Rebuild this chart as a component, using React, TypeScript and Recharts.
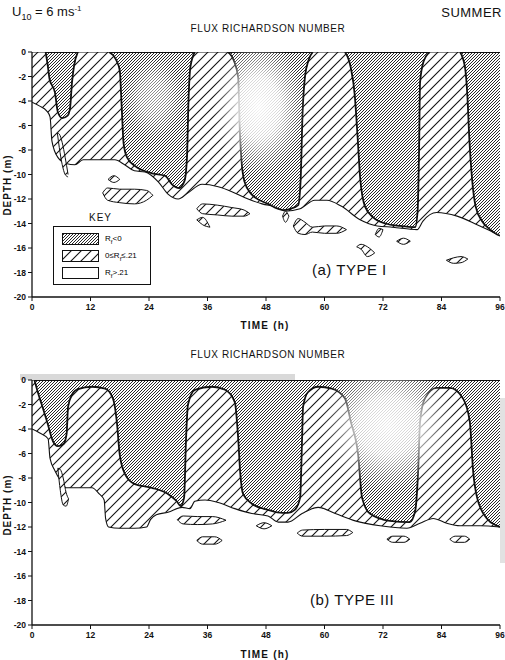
import React from 'react'
import { ComposedChart, Area, XAxis, YAxis, ReferenceArea } from 'recharts'

// time axis (h) and depth axis (m)
const timeTicks = [0, 12, 24, 36, 48, 60, 72, 84, 96]
const depthTicks = [0, -2, -4, -6, -8, -10, -12, -14, -16, -18, -20]

// [time, depth] of the lower edge of the hatched (Rf <= .21) layer
const mixedBaseA: [number, number][] = [
  [0, -4.1], [1.5, -4.4], [3, -4.8], [3.7, -5.3], [4.1, -7.3], [5.3, -8.6], [7, -9.1],
  [8.8, -9.2], [10.5, -8.8], [14, -8.8], [17, -8.8], [19, -9.2], [21, -9.7], [23.2, -9.8],
  [25.9, -10.6], [27.9, -11.6], [30, -12], [32, -11.5], [34.9, -10.8], [38.2, -11],
  [41, -11.4], [43.7, -11.9], [47.2, -12.4], [50.5, -12.7], [52, -13], [55, -12.8],
  [58, -12.1], [60.5, -12.1], [63.5, -12.6], [67.3, -13.7], [70.8, -14.2], [74, -14.3],
  [79, -14.5], [80.2, -13.8], [83, -13.1], [87.2, -13.4], [91.3, -14.1], [94, -14.6], [96, -15],
]

// [time, depth] of the bottom of each convective (Rf < 0) column
const convectiveA: [number, number][][] = [
  [[2.8, 0], [3.2, -1], [3.6, -2.2], [4.7, -3.3], [5.3, -4.9], [6.2, -5.4], [7.3, -5.2],
    [7.8, -4.6], [8.2, -2.5], [8.6, -1.2], [9.4, 0]],
  [[15.8, 0], [17.2, -0.6], [18, -1.5], [18.4, -4.5], [18.8, -7.5], [19.5, -8.6], [21.1, -9.3],
    [24.6, -9.9], [27.3, -10.1], [28.7, -10.8], [30.2, -11.1], [31.3, -10.5], [31.8, -8.5],
    [32.1, -4], [32.5, -1.2], [33.4, 0]],
  [[40.2, 0], [41.5, -0.8], [42.3, -2.1], [42.6, -6], [43, -9], [43.6, -10.6], [45, -11.6],
    [48.4, -12.4], [51.5, -12.9], [53, -12.8], [54.6, -12.5], [55.1, -10.5], [55.5, -5],
    [56, -2], [56.7, -0.7], [57.6, 0]],
  [[64.2, 0], [65.4, -1.3], [66.2, -3.5], [66.8, -7], [67.3, -10.2], [68.3, -12.6], [70, -13.5],
    [72.5, -14], [75.5, -14.2], [78.6, -14.3], [79.1, -13], [79.4, -8], [79.6, -2.5],
    [80.3, -0.8], [81.6, 0]],
  [[87.8, 0], [88.8, -1.2], [89.3, -3.5], [89.7, -7], [90.3, -10.5], [91, -12.6], [92.3, -13.8],
    [94, -14.5], [95.4, -14.9], [96, -15]],
]

// detached hatched patches: [time, lower depth, upper depth]
const patchesA: [number, number, number][][] = [
  [[5.2, -6.6, -6.6], [5.6, -7.8, -6.7], [6.2, -9.2, -7.4], [6.8, -10, -8.6], [7.4, -10.2, -10]],
  [[15.6, -10.4, -10.4], [16.8, -10.65, -10.1], [18, -10.4, -10.4]],
  [[14.5, -11.5, -11.5], [15.5, -12.1, -11.1], [18, -12.3, -11.2], [21, -12.4, -11.2],
    [23.5, -12.1, -11.3], [24.8, -11.7, -11.7]],
  [[33.8, -12.8, -12.8], [35, -13.2, -12.4], [38, -13.3, -12.5], [41, -13.4, -12.7],
    [43.5, -13.4, -12.9], [44.7, -13.2, -13.2]],
  [[33.8, -13.7, -13.7], [35, -14.1, -13.5], [36.5, -14.3, -14.3]],
  [[51.4, -13.4, -13.4], [52, -13.9, -13], [52.7, -13.4, -13.4]],
  [[53.6, -14.2, -14.2], [54.6, -14.8, -13.6], [56, -14.9, -13.9], [57.5, -14.7, -14.3],
    [60, -14.8, -14.2], [62.5, -14.8, -14.2], [64.5, -14.5, -14.5]],
  [[70.4, -14.9, -14.9], [71.2, -15.1, -14.4], [72, -14.5, -14.5]],
  [[74.8, -15.45, -15.45], [76.2, -15.7, -15.2], [77.6, -15.45, -15.45]],
  [[66.6, -15.9, -15.9], [67.5, -16.1, -15.7], [68.8, -16.7, -15.9], [70.3, -16.4, -16.4]],
  [[85, -17, -17], [86.5, -17.25, -16.8], [88, -17.2, -16.7], [89.4, -16.9, -16.9]],
]

const mixedBaseB: [number, number][] = [
  [0, -4], [1.5, -4.3], [3.3, -4.8], [3.7, -6.4], [4.7, -7.4], [6, -8.3], [7, -8.8],
  [8.8, -8.8], [12.3, -8.8], [13.8, -9.3], [14.8, -9.8], [15.1, -11.3], [15.7, -12],
  [18, -12.1], [21, -12.1], [23.5, -12], [24.3, -11.4], [25.5, -11], [27.9, -10.8],
  [30.8, -10.4], [32.4, -10.5], [33.4, -9.9], [35.5, -9.8], [38.2, -10], [41.6, -10.5],
  [45.1, -10.9], [48.4, -11.1], [50.5, -11.6], [52.5, -11.6], [55.4, -10.9], [58.7, -10.4],
  [62.2, -10.9], [66.3, -11.5], [71.4, -11.9], [76.9, -12.1], [79.6, -11.7], [82.3, -11.3],
  [85.1, -11.7], [87.8, -11.9], [91.9, -11.9], [96, -12],
]

const convectiveB: [number, number][][] = [
  [[0.5, 0], [1.2, -1], [2, -2], [3.1, -3.4], [4.3, -5], [5.3, -5.4], [6.5, -5.2], [7.1, -4.4],
    [7.4, -2.2], [8.2, -1.2], [9.4, -0.75], [12.3, -0.55], [15, -0.7], [16.6, -1.5],
    [17.4, -3.4], [18, -6.1], [19.1, -7.7], [21.1, -8.5], [24.6, -8.8], [27.9, -9.3],
    [29.7, -9.9], [30.5, -10.3], [31.2, -9.6], [31.6, -4.8], [32, -2], [33.4, -0.8],
    [36.9, -0.55], [39.6, -0.8], [41.6, -1.8], [42.3, -4.8], [42.7, -7.5], [43.3, -9.3],
    [45.1, -10.1], [48.4, -10.6], [50.3, -10.8], [52.5, -10.85], [53.9, -10.6], [55, -9.6],
    [55.4, -4.8], [55.6, -2.2], [56.6, -1], [58.7, -0.55], [61.5, -0.7], [64.2, -1.5],
    [65.4, -3.4], [66.9, -6.1], [67.7, -9.6], [69.3, -10.9], [73.4, -11.5], [77.5, -11.6],
    [78.6, -10.7], [79.2, -7.5], [79.6, -3.4], [80.6, -1.5], [83, -0.65], [85.7, -0.65],
    [88.4, -1.5], [89.8, -3.4], [90.5, -7.5], [91.3, -9.6], [93.3, -11.3], [95.4, -11.9],
    [96, -12]],
]

const patchesB: [number, number, number][][] = [
  [[5.3, -7.2, -7.2], [5.8, -9, -7.3], [6.4, -10.2, -8], [7, -10.3, -9.2], [7.5, -9.7, -9.7]],
  [[29.8, -11.4, -11.4], [31, -11.75, -11.1], [34, -11.8, -11.15], [37, -11.75, -11.15],
    [39.8, -11.45, -11.45]],
  [[46, -11.9, -11.9], [47.6, -12.15, -11.65], [49.2, -11.9, -11.9]],
  [[33.8, -13.1, -13.1], [35, -13.4, -12.8], [37.5, -13.4, -12.8], [39, -13.1, -13.1]],
  [[54.4, -12.5, -12.5], [55.5, -12.75, -12.25], [60, -12.75, -12.2], [64.5, -12.7, -12.2],
    [65.8, -12.45, -12.45]],
  [[72.8, -13, -13], [74, -13.25, -12.75], [76.3, -13.25, -12.75], [77.5, -13, -13]],
  [[85.7, -13, -13], [86.8, -13.25, -12.75], [88.7, -13.25, -12.75], [89.8, -13, -13]],
]

// worn patches of the print: [t1, t2, depth1, depth2, strength]
const wornA: [number, number, number, number, number][] = [
  [37, 56, 1, -10, 0.95],
  [19, 31, -0.5, -7, 0.5],
]
const wornB: [number, number, number, number, number][] = [
  [59, 87, 1.5, -9, 0.9],
]

const ink = '#111'
const font = '"Liberation Sans", Arial, sans-serif'

const toBand = (pts: [number, number][]) => pts.map(([t, d]) => ({ t, r: [d, 0] }))
const toPatch = (pts: [number, number, number][]) => pts.map(([t, lo, hi]) => ({ t, r: [lo, hi] }))

function Patterns() {
  return (
    <svg width={0} height={0} style={{ position: 'absolute' }}>
      <defs>
        <pattern id="hatchLight" width={10} height={10} patternUnits="userSpaceOnUse">
          <rect width={10} height={10} fill="#fff" />
          <path d="M0,10 L10,0 M-2,2 L2,-2 M8,12 L12,8" stroke={ink} strokeWidth={1.1} />
        </pattern>
        <pattern id="hatchDark" width={3} height={3} patternUnits="userSpaceOnUse">
          <rect width={3} height={3} fill="#fff" />
          <path d="M0,3 L3,0 M-1,1 L1,-1 M2,4 L4,2" stroke={ink} strokeWidth={0.9} />
        </pattern>
        <radialGradient id="worn" cx="50%" cy="50%" r="50%">
          <stop offset="0%" stopColor="#fff" stopOpacity={1} />
          <stop offset="45%" stopColor="#fff" stopOpacity={0.85} />
          <stop offset="75%" stopColor="#fff" stopOpacity={0.35} />
          <stop offset="100%" stopColor="#fff" stopOpacity={0} />
        </radialGradient>
      </defs>
    </svg>
  )
}

type PanelProps = {
  height: number
  base: [number, number][]
  convective: [number, number][][]
  patches: [number, number, number][][]
  worn: [number, number, number, number, number][]
}

function Panel({ height, base, convective, patches, worn }: PanelProps) {
  const tickStyle = { fontSize: 8.5, fill: ink, fontFamily: font, fontWeight: 700 }
  return (
    <ComposedChart width={505} height={height} margin={{ top: 52, right: 5, bottom: 0, left: 0 }}>
      <XAxis dataKey="t" type="number" domain={[0, 96]} ticks={timeTicks} allowDataOverflow
        height={height - 52 - 245} tickSize={4} tickMargin={3} tick={tickStyle}
        axisLine={{ stroke: ink, strokeWidth: 1.3 }} tickLine={{ stroke: ink }} />
      <XAxis xAxisId="top" orientation="top" dataKey="t" type="number" domain={[0, 96]}
        ticks={timeTicks} height={0} mirror tick={false} tickSize={4}
        axisLine={{ stroke: ink, strokeWidth: 0.8, strokeDasharray: '3 1' }} tickLine={{ stroke: ink }} />
      <YAxis type="number" domain={[-20, 0]} ticks={depthTicks} width={32} tickSize={4}
        tickMargin={2} tick={tickStyle} allowDataOverflow
        axisLine={{ stroke: ink, strokeWidth: 1.3 }} tickLine={{ stroke: ink }} />
      <YAxis yAxisId="right" orientation="right" type="number" domain={[-20, 0]} ticks={depthTicks}
        width={0} mirror tick={false} tickSize={4}
        axisLine={{ stroke: ink, strokeWidth: 1.3 }} tickLine={{ stroke: ink }} />

      <Area data={toBand(base)} dataKey="r" type="monotone" fill="url(#hatchLight)" fillOpacity={1}
        stroke={ink} strokeWidth={1.1} isAnimationActive={false} dot={false} activeDot={false} />
      {patches.map((p, i) => (
        <Area key={`p${i}`} data={toPatch(p)} dataKey="r" type="monotone" fill="url(#hatchLight)"
          fillOpacity={1} stroke={ink} strokeWidth={1} isAnimationActive={false} dot={false}
          activeDot={false} />
      ))}
      {convective.map((c, i) => (
        <Area key={`c${i}`} data={toBand(c)} dataKey="r" type="monotone" fill="url(#hatchDark)"
          fillOpacity={1} stroke={ink} strokeWidth={1.8} isAnimationActive={false} dot={false}
          activeDot={false} />
      ))}
      {worn.map(([t1, t2, d1, d2, a], i) => (
        <ReferenceArea key={`w${i}`} x1={t1} x2={t2} y1={d1} y2={d2} fill="url(#worn)"
          fillOpacity={a} stroke="none" ifOverflow="hidden" />
      ))}
    </ComposedChart>
  )
}

const label = (extra: React.CSSProperties): React.CSSProperties => ({
  position: 'absolute', fontFamily: font, color: ink, whiteSpace: 'nowrap', lineHeight: 1, ...extra,
})

function Key() {
  const row = (fill: string, text: React.ReactNode, top: number) => (
    <div style={{ position: 'absolute', left: 8, top, display: 'flex', alignItems: 'center' }}>
      <svg width={37} height={12}>
        <rect x={0.5} y={0.5} width={36} height={11} fill={fill} stroke={ink} strokeWidth={1} />
      </svg>
      <span style={{ marginLeft: 6, fontSize: 8, fontFamily: font }}>{text}</span>
    </div>
  )
  return (
    <>
      <div style={label({ left: 89, top: 213, fontSize: 10, letterSpacing: 1 })}>KEY</div>
      <div style={{ position: 'absolute', left: 53, top: 226, width: 96, height: 57,
        border: `1.3px solid ${ink}`, background: '#fff' }}>
        {row('url(#hatchDark)', <>R<sub style={{ fontSize: 6 }}>f</sub>&lt;0</>, 6)}
        {row('url(#hatchLight)', <>0≤R<sub style={{ fontSize: 6 }}>f</sub>≤.21</>, 23)}
        {row('#fff', <>R<sub style={{ fontSize: 6 }}>f</sub>&gt;.21</>, 40)}
      </div>
    </>
  )
}

export default function App() {
  return (
    <div style={{ position: 'absolute', left: 0, top: 0, width: 505, height: 660, background: '#fff',
      overflow: 'hidden' }}>
      <Patterns />
      <div style={{ position: 'absolute', left: 20, top: 374, width: 275, height: 6, background: '#d9d9d9' }} />
      <div style={{ position: 'absolute', left: 500, top: 398, width: 5, height: 165, background: '#e2e2e2' }} />

      <div style={label({ left: 12, top: 5, fontSize: 13 })}>
        U<sub style={{ fontSize: 9 }}>10</sub> = 6 ms<sup style={{ fontSize: 8 }}>-1</sup>
      </div>
      <div style={label({ right: 3, top: 6, fontSize: 13, letterSpacing: 0.5 })}>SUMMER</div>
      <div style={label({ left: 268, top: 24, fontSize: 10, letterSpacing: 0.6, transform: 'translateX(-50%)' })}>
        FLUX RICHARDSON NUMBER
      </div>

      <div style={{ position: 'absolute', left: 0, top: 0 }}>
        <Panel height={335} base={mixedBaseA} convective={convectiveA} patches={patchesA} worn={wornA} />
      </div>
      <Key />
      <div style={label({ left: 312, top: 262, fontSize: 15, letterSpacing: 0.5 })}>(a) TYPE I</div>
      <div style={label({ left: 265, top: 321, fontSize: 10, fontWeight: 700, letterSpacing: 1.2,
        transform: 'translateX(-50%)' })}>TIME (h)</div>
      <div style={label({ left: 8, top: 185, fontSize: 10, fontWeight: 700, letterSpacing: 1,
        transform: 'translate(-50%, -50%) rotate(-90deg)' })}>DEPTH (m)</div>

      <div style={label({ left: 268, top: 350, fontSize: 10, letterSpacing: 0.6, transform: 'translateX(-50%)' })}>
        FLUX RICHARDSON NUMBER
      </div>
      <div style={{ position: 'absolute', left: 0, top: 328 }}>
        <Panel height={329} base={mixedBaseB} convective={convectiveB} patches={patchesB} worn={wornB} />
      </div>
      <div style={label({ left: 310, top: 592, fontSize: 15, letterSpacing: 0.5 })}>(b) TYPE III</div>
      <div style={label({ left: 265, top: 650, fontSize: 10, fontWeight: 700, letterSpacing: 1.2,
        transform: 'translateX(-50%)' })}>TIME (h)</div>
      <div style={label({ left: 8, top: 505, fontSize: 10, fontWeight: 700, letterSpacing: 1,
        transform: 'translate(-50%, -50%) rotate(-90deg)' })}>DEPTH (m)</div>
    </div>
  )
}
